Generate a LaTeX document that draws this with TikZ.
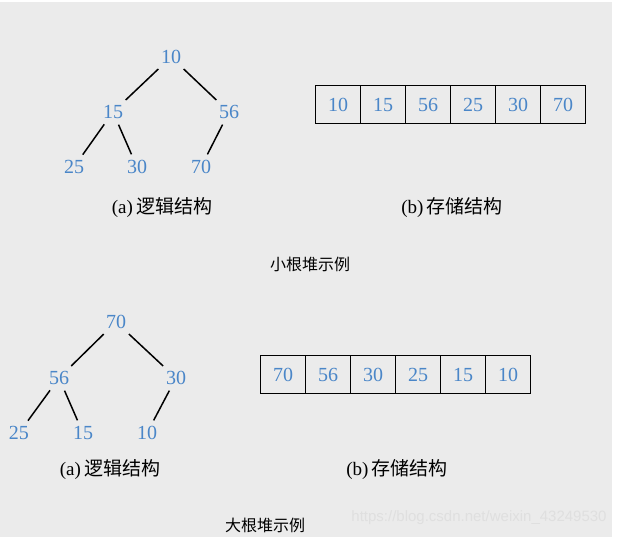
\documentclass[tikz,border=0pt]{standalone}
\usepackage{fontspec}
\setmainfont{Liberation Serif}
\newfontfamily\cjk{Noto Sans CJK SC}
\definecolor{bg}{HTML}{EBEBEB}
\definecolor{num}{HTML}{4A86C8}
\begin{document}
\begin{tikzpicture}[x=1pt,y=-1pt,
  nd/.style={text=num,font=\fontsize{20}{20}\selectfont,inner sep=3pt},
  cell/.style={draw=black,line width=1.3pt,minimum width=45pt,minimum height=38pt,text=num,font=\fontsize{20}{20}\selectfont,anchor=north west,inner sep=0pt},
  edge/.style={line width=1.5pt,shorten <=3pt,shorten >=3pt},
  captxt/.style={font=\fontsize{19}{19}\selectfont},
  ttl/.style={font=\fontsize{16}{16}\selectfont}]
\fill[white] (0,0) rectangle (617,537);
\fill[bg] (0,2) rectangle (612,537);
\useasboundingbox (0,0) rectangle (617,537);
% top tree
\node[nd] (a1) at (171,57) {10};
\node[nd] (a2) at (113,112) {15};
\node[nd] (a3) at (229,112) {56};
\node[nd] (a4) at (74,167) {25};
\node[nd] (a5) at (137,167) {30};
\node[nd] (a6) at (201,167) {70};
\draw[edge] (a1) -- (a2); \draw[edge] (a1) -- (a3);
\draw[edge] (a2) -- (a4); \draw[edge] (a2) -- (a5);
\draw[edge] (a3) -- (a6);
\node[captxt] (ca) at (162,208) {(a)\,\cjk 逻辑结构};
\foreach \v [count=\i from 0] in {10,15,56,25,30,70}
  \node[cell] (t\i) at (315+45*\i,85) {\v};
\node[captxt] (cb) at (452,208) {(b)\,\cjk 存储结构};
\node[ttl] (t1t) at (310,264) {\cjk 小根堆示例};
% bottom tree
\node[nd] (b1) at (116,322) {70};
\node[nd] (b2) at (59,378) {56};
\node[nd] (b3) at (176,378) {30};
\node[nd] (b4) at (19,433) {25};
\node[nd] (b5) at (83,433) {15};
\node[nd] (b6) at (147,433) {10};
\draw[edge] (b1) -- (b2); \draw[edge] (b1) -- (b3);
\draw[edge] (b2) -- (b4); \draw[edge] (b2) -- (b5);
\draw[edge] (b3) -- (b6);
\node[captxt] (da) at (110,470) {(a)\,\cjk 逻辑结构};
\foreach \v [count=\i from 0] in {70,56,30,25,15,10}
  \node[cell] (s\i) at (260+45*\i,355) {\v};
\node[captxt] (db) at (397,470) {(b)\,\cjk 存储结构};
\node[ttl] (t2t) at (265,525) {\cjk 大根堆示例};
\node[text=white!75!gray,font=\fontsize{15}{15}\selectfont\fontspec{Liberation Sans}] (wm) at (479,518) {https://blog.csdn.net/weixin\_43249530};
\end{tikzpicture}
\end{document}
